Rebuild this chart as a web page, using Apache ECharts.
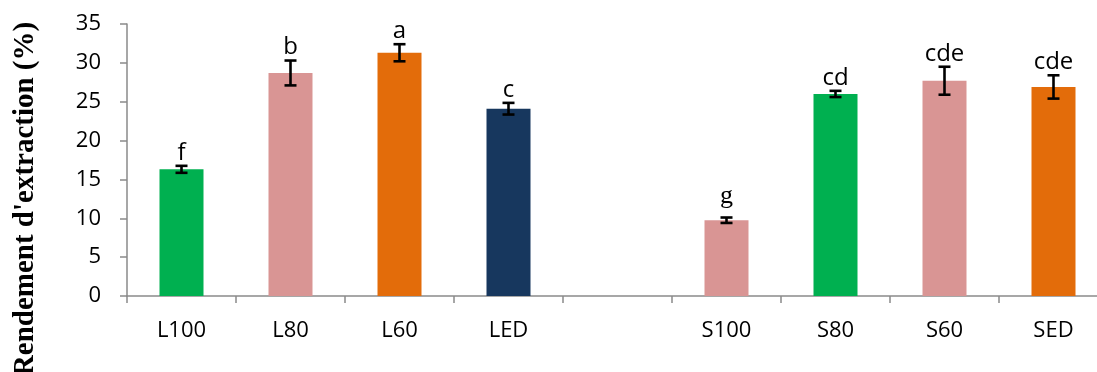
<!DOCTYPE html>
<html>
<head>
<meta charset="utf-8">
<script src="https://cdn.jsdelivr.net/npm/echarts@6/dist/echarts.min.js"></script>
<style>
  html, body { margin: 0; padding: 0; background: #fff; }
  #chart { width: 1097px; height: 372px; }
</style>
</head>
<body>
<div id="chart"></div>
<script>
// Extraction yield per treatment (empty slot separates the L and S groups)
const categories = ['L100', 'L80', 'L60', 'LED', '', 'S100', 'S80', 'S60', 'SED'];
const yieldValues = [16.3, 28.7, 31.3, 24.1, null, 9.75, 26.0, 27.7, 26.9];
const errorValues = [0.45, 1.6, 1.1, 0.75, null, 0.35, 0.4, 1.8, 1.5];
const groupLetters = ['f', 'b', 'a', 'c', '', 'g', 'cd', 'cde', 'cde'];
const yTicks = [0, 5, 10, 15, 20, 25, 30, 35];

// Bar fill for each treatment
const GREEN = '#00B050', PINK = '#D99594', ORANGE = '#E36C0A', NAVY = '#17375E';
const barColors = [GREEN, PINK, ORANGE, NAVY, PINK, PINK, GREEN, PINK, ORANGE];

const axisGray = '#8a8a8a';
const sansFont = "'Open Sans', 'Noto Sans', sans-serif";
const serifFont = "'Liberation Serif', 'Times New Roman', serif";

const chart = echarts.init(document.getElementById('chart'), null, { renderer: 'canvas' });

const barData = yieldValues.map((v, i) => ({
  value: v == null ? '-' : v,
  itemStyle: { color: barColors[i] }
}));

const errData = [];
yieldValues.forEach((v, i) => {
  if (v != null) errData.push([i, v, errorValues[i]]);
});

function renderErrorBar(params, api) {
  const idx = api.value(0);
  const v = api.value(1);
  const e = api.value(2);
  const letter = groupLetters[idx];
  const top = api.coord([idx, v + e]);
  const bot = api.coord([idx, v - e]);
  const cap = 6;
  const lineStyle = { stroke: '#000', lineWidth: 2.6 };
  const isSerif = letter === 'g';
  return {
    type: 'group',
    children: [
      { type: 'line', shape: { x1: top[0], y1: top[1], x2: bot[0], y2: bot[1] }, style: lineStyle },
      { type: 'line', shape: { x1: top[0] - cap, y1: top[1], x2: top[0] + cap, y2: top[1] }, style: lineStyle },
      { type: 'line', shape: { x1: bot[0] - cap, y1: bot[1], x2: bot[0] + cap, y2: bot[1] }, style: lineStyle },
      {
        type: 'text',
        x: top[0],
        y: top[1] - (isSerif ? 8 : 1),
        style: {
          text: letter,
          fill: '#000',
          fontSize: isSerif ? 26 : 24,
          fontFamily: isSerif ? serifFont : sansFont,
          align: 'center',
          verticalAlign: 'bottom'
        }
      }
    ]
  };
}

chart.setOption({
  animation: false,
  backgroundColor: '#fff',
  grid: { left: 127, right: -11, top: 24, bottom: 76, outerBoundsMode: 'none' },
  xAxis: {
    type: 'category',
    data: categories,
    boundaryGap: true,
    axisLine: { lineStyle: { color: axisGray, width: 1.5 } },
    axisTick: { show: true, inside: false, length: 7, lineStyle: { color: axisGray, width: 1.5 } },
    axisLabel: { color: '#000', fontSize: 22, fontFamily: sansFont, margin: 24, interval: 0 },
    splitLine: { show: false }
  },
  yAxis: {
    type: 'value',
    min: yTicks[0],
    max: yTicks[yTicks.length - 1],
    interval: 5,
    axisLine: { show: true, lineStyle: { color: axisGray, width: 1.5 } },
    axisTick: { show: true, inside: false, length: 7, lineStyle: { color: axisGray, width: 1.5 } },
    axisLabel: { color: '#000', fontSize: 22, fontFamily: sansFont, margin: 26 },
    splitLine: { show: false }
  },
  graphic: [{
    type: 'text',
    x: 26,
    y: 199,
    rotation: Math.PI / 2,
    style: {
      text: "Rendement d'extraction (%)",
      fill: '#000',
      fontSize: 29,
      fontWeight: 'bold',
      fontFamily: serifFont,
      align: 'center',
      verticalAlign: 'middle'
    }
  }],
  series: [
    {
      type: 'bar',
      data: barData,
      barWidth: 44,
      z: 2
    },
    {
      type: 'custom',
      renderItem: renderErrorBar,
      data: errData,
      encode: { x: 0, y: 1 },
      z: 3
    }
  ]
});
</script>
</body>
</html>
